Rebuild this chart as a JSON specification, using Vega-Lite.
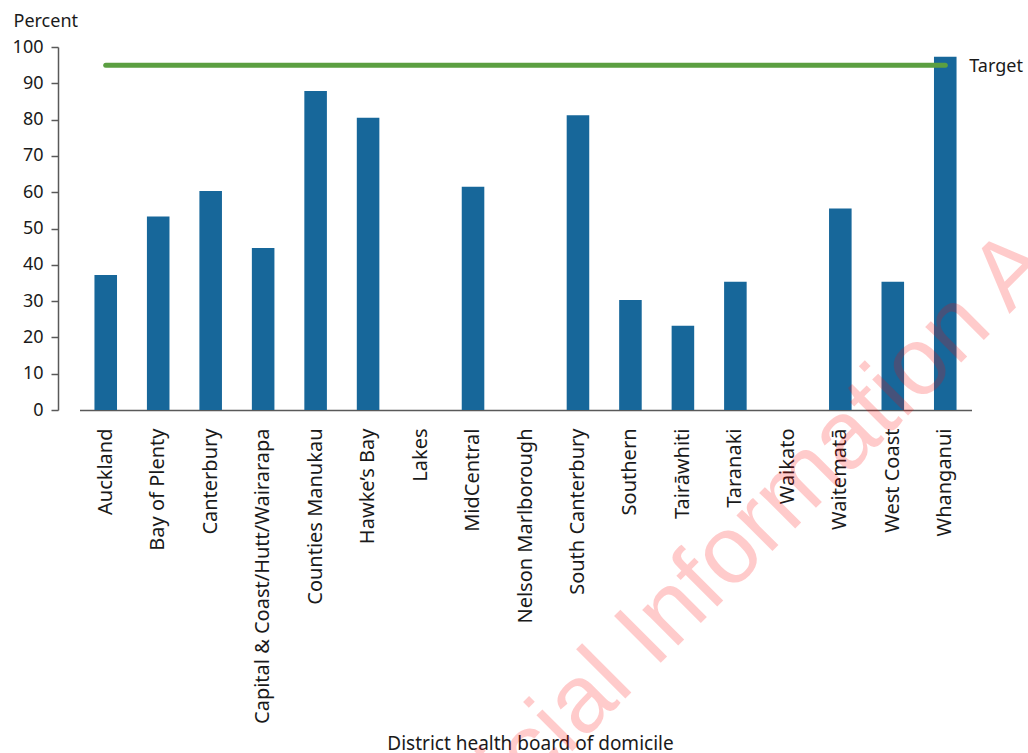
{
  "$schema": "https://vega.github.io/schema/vega-lite/v6.json",
  "width": 914,
  "height": 363,
  "autosize": {"type": "none"},
  "padding": {"left": 58, "top": 47, "right": 56, "bottom": 343},
  "background": "white",
  "config": {
    "view": {"stroke": null},
    "font": "Noto Sans",
    "axis": {"grid": false, "labelFont": "Noto Sans", "titleFont": "Noto Sans", "titleFontWeight": "normal", "labelColor": "#1a1a1a", "titleColor": "#1a1a1a", "domainColor": "#595959", "tickColor": "#595959", "domainWidth": 1.5, "tickWidth": 1.5}
  },
  "datasets": {
    "bars": [
      {"board": "Auckland", "value": 37.2},
      {"board": "Bay of Plenty", "value": 53.3},
      {"board": "Canterbury", "value": 60.3},
      {"board": "Capital & Coast/Hutt/Wairarapa", "value": 44.6},
      {"board": "Counties Manukau", "value": 87.9},
      {"board": "Hawke’s Bay", "value": 80.5},
      {"board": "Lakes", "value": null},
      {"board": "MidCentral", "value": 61.5},
      {"board": "Nelson Marlborough", "value": null},
      {"board": "South Canterbury", "value": 81.2},
      {"board": "Southern", "value": 30.3},
      {"board": "Tairāwhiti", "value": 23.2},
      {"board": "Taranaki", "value": 35.3},
      {"board": "Waikato", "value": null},
      {"board": "Waitematā", "value": 55.5},
      {"board": "West Coast", "value": 35.3},
      {"board": "Whanganui", "value": 97.3}
    ],
    "target": [{"board": "Auckland", "end": "Whanganui", "value": 95}],
    "targetLabel": [{"board": "Whanganui", "value": 94.6, "label": "Target"}],
    "watermark": [{"board": "Waikato", "value": -40.0, "label": "Official Information Act"}]
  },
  "encoding": {
    "x": {
      "field": "board",
      "type": "nominal",
      "sort": null,
      "scale": {
        "domain": ["Auckland", "Bay of Plenty", "Canterbury", "Capital & Coast/Hutt/Wairarapa", "Counties Manukau", "Hawke’s Bay", "Lakes", "MidCentral", "Nelson Marlborough", "South Canterbury", "Southern", "Tairāwhiti", "Taranaki", "Waikato", "Waitematā", "West Coast", "Whanganui"],
        "range": [21.5, 913.5],
        "paddingInner": 0,
        "paddingOuter": 0
      },
      "axis": {
        "title": "District health board of domicile",
        "titleFontSize": 19,
        "titleX": 472,
        "titleY": 339,
        "titleAlign": "center",
        "titleAnchor": null,
        "titleBaseline": "alphabetic",
        "labelAngle": -90,
        "labelAlign": "right",
        "labelBaseline": "middle",
        "labelFontSize": 20,
        "labelPadding": 18,
        "labelLimit": 0,
        "labelOverlap": false,
        "ticks": false,
        "tickSize": 0
      }
    },
    "y": {
      "field": "value",
      "type": "quantitative",
      "scale": {"domain": [0, 100], "nice": false, "zero": true},
      "axis": {
        "title": "Percent",
        "titleAngle": 0,
        "titleAlign": "left",
        "titleAnchor": null,
        "titleBaseline": "alphabetic",
        "titleX": -45,
        "titleY": -21,
        "titleFontSize": 18,
        "values": [0, 10, 20, 30, 40, 50, 60, 70, 80, 90, 100],
        "tickSize": 7,
        "labelPadding": 8,
        "labelFontSize": 18
      }
    }
  },
  "layer": [
    {
      "data": {"name": "bars"},
      "mark": {"type": "bar", "color": "#17679a", "width": {"band": 0.43}}
    },
    {
      "data": {"name": "target"},
      "mark": {"type": "rule", "color": "#5b9f41", "strokeWidth": 5, "strokeCap": "round"},
      "encoding": {"x2": {"field": "end"}}
    },
    {
      "data": {"name": "targetLabel"},
      "mark": {"type": "text", "align": "left", "baseline": "middle", "dx": 24, "fontSize": 18, "color": "#1a1a1a", "font": "Noto Sans"},
      "encoding": {"text": {"field": "label"}}
    },
    {
      "data": {"name": "watermark"},
      "mark": {"type": "text", "align": "center", "baseline": "alphabetic", "angle": -45, "fontSize": 96, "font": "Liberation Sans", "color": "#ff0000", "opacity": 0.2},
      "encoding": {
        "x": {"field": "board", "type": "nominal", "bandPosition": 0.13},
        "text": {"field": "label"}
      }
    }
  ]
}
